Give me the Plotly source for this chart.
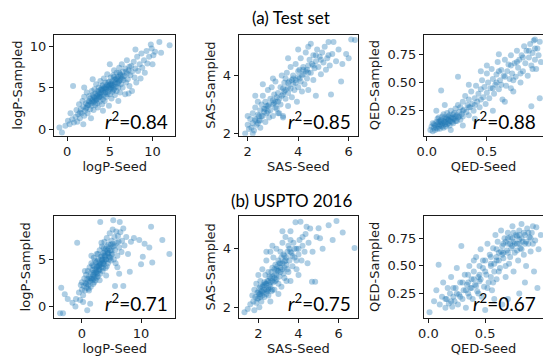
import plotly.graph_objects as go

# ---------------- data ----------------
logp_test = [(-0.9,0.2),(-0.6,-0.4),(-0.2,0.4),(0.1,1.0),(0.3,0.6),(0.4,1.9),(0.6,1.2),(0.7,5.2),(0.8,0.8),(1.0,1.5),
 (1.1,2.3),(1.2,0.9),(1.3,1.8),(1.4,3.0),(1.5,1.3),(1.6,2.4),(1.7,1.9),(1.8,3.4),(1.9,2.7),(2.0,1.6),(2.0,3.9),(2.1,2.2),
 (2.2,3.1),(2.3,2.6),(2.3,4.4),(2.4,1.9),(2.5,3.4),(2.5,2.9),(2.6,4.0),(2.7,2.4),(2.7,3.7),(2.8,3.1),(2.9,4.6),(2.9,2.8),
 (3.0,3.5),(3.0,4.1),(3.1,2.3),(3.1,3.2),(3.2,4.8),(3.2,3.8),(3.3,2.9),(3.3,4.3),(3.4,3.5),(3.4,5.4),(3.5,3.1),(3.5,4.0),
 (3.6,4.6),(3.6,2.6),(3.7,3.8),(3.7,5.0),(3.8,4.2),(3.8,3.3),(3.9,4.7),(3.9,5.8),(4.0,3.9),(4.0,4.4),(4.1,3.0),(4.1,5.2),
 (4.2,4.6),(4.2,3.6),(4.3,4.1),(4.3,6.1),(4.4,5.0),(4.4,3.4),(4.5,4.4),(4.5,5.6),(4.6,4.8),(4.6,3.9),(4.7,5.3),(4.7,6.6),
 (4.8,4.5),(4.8,5.0),(4.9,2.8),(4.9,5.7),(5.0,4.9),(5.0,4.2),(5.1,5.4),(5.1,6.2),(5.2,3.7),(5.2,5.0),(5.3,5.8),(5.3,4.5),
 (5.4,6.5),(5.4,5.2),(5.5,4.8),(5.5,7.1),(5.6,5.6),(5.6,4.1),(5.7,6.0),(5.7,5.1),(5.8,6.8),(5.8,4.6),(5.9,5.5),(6.0,6.3),
 (6.0,5.0),(6.1,7.4),(6.1,5.8),(6.2,4.4),(6.2,6.6),(6.3,5.4),(6.4,6.1),(6.4,7.8),(6.5,5.0),(6.5,6.9),(6.6,5.9),(6.7,6.4),
 (6.8,7.3),(6.8,4.2),(6.9,5.6),(7.0,6.7),(7.0,8.3),(7.1,6.0),(7.2,7.1),(7.3,5.2),(7.4,6.5),(7.5,7.6),(7.6,4.6),(7.6,6.9),
 (7.8,8.1),(7.9,6.2),(8.0,7.3),(8.1,5.6),(8.2,8.7),(8.3,7.0),(8.5,7.8),(8.6,6.1),(8.7,9.1),(8.8,7.4),(9.0,8.3),(9.1,6.8),
 (9.3,9.4),(9.4,7.9),(9.6,8.7),(9.8,10.2),(9.9,9.7),(10.0,7.8),(10.1,8.9),(10.3,9.3),(10.8,10.5),(11.0,9.2),(12.0,10.1),
 (2.8,1.3),(1.9,0.6),(6.0,3.4),(7.2,4.3),(8.0,9.6),(5.0,7.8),(3.0,6.0),(2.0,5.0),(4.2,2.2),(3.5,3.6),(4.0,4.8),(4.5,4.9),
 (5.0,5.3),(5.5,5.9),(6.0,5.6),(3.2,3.4),(3.8,3.9),(4.4,4.4),(5.2,5.5),(5.8,6.1),(6.3,6.5),(2.6,3.3),(4.7,4.2),(5.4,4.7),
 (3.3,3.7),(3.6,4.2),(3.9,4.0),(4.1,4.7),(4.3,4.9),(4.6,5.1),(4.9,5.2),(5.1,4.8),(5.3,5.3),(5.6,5.4),(5.9,6.0),(6.2,5.9),
 (6.5,6.3),(2.9,3.4),(2.4,2.9),(3.1,3.9),(3.7,4.4),(4.2,5.3),(4.8,5.6),(5.5,6.3),(6.1,6.8),(6.9,6.9),(7.3,7.5),(2.2,2.5),
 (1.5,2.0)]

sas_test = [(1.9,2.0),(2.0,2.3),(2.05,2.15),(2.1,2.5),(2.15,2.2),(2.2,2.7),(2.2,2.35),(2.25,2.1),(2.3,2.5),(2.3,2.9),
 (2.35,2.3),(2.4,2.65),(2.4,3.1),(2.45,2.45),(2.5,2.8),(2.5,2.2),(2.55,3.0),(2.6,2.6),(2.6,3.3),(2.65,2.85),(2.7,2.4),
 (2.7,3.1),(2.75,2.7),(2.8,3.5),(2.8,2.95),(2.85,2.55),(2.9,3.2),(2.9,2.8),(2.95,3.6),(3.0,3.0),(3.0,2.6),(3.05,3.35),
 (3.1,3.1),(3.1,3.8),(3.15,2.85),(3.2,3.4),(3.2,2.7),(3.25,3.2),(3.3,3.6),(3.3,3.0),(3.35,4.0),(3.4,3.35),(3.4,2.6),
 (3.45,3.75),(3.5,3.2),(3.5,3.5),(3.55,4.1),(3.6,3.4),(3.6,2.95),(3.65,3.8),(3.7,3.55),(3.7,4.3),(3.75,3.25),(3.8,3.7),
 (3.8,4.0),(3.85,3.5),(3.9,4.4),(3.9,3.85),(3.95,3.1),(4.0,3.95),(4.0,3.6),(4.05,4.2),(4.1,3.8),(4.1,4.6),(4.15,3.45),
 (4.2,4.05),(4.2,4.3),(4.25,3.7),(4.3,4.15),(4.3,4.8),(4.35,3.9),(4.4,4.35),(4.4,3.5),(4.45,4.55),(4.5,4.1),(4.5,5.1),
 (4.55,4.4),(4.6,3.85),(4.6,4.7),(4.65,4.25),(4.7,4.5),(4.7,3.3),(4.75,4.9),(4.8,4.3),(4.85,4.65),(4.9,4.05),(4.95,4.8),
 (5.0,4.45),(5.05,5.0),(5.1,4.2),(5.15,4.6),(5.2,5.16),(5.25,4.35),(5.3,3.35),(5.35,4.75),(5.4,5.16),(5.5,4.5),(5.6,4.9),
 (5.7,3.8),(5.75,4.4),(5.9,4.75),(6.0,4.6),(6.1,5.25),(6.25,5.23),(3.25,2.7),(3.4,2.55),(2.0,2.6),(2.3,3.3),(2.6,3.7),
 (3.0,3.9),(3.6,4.6),(4.0,4.9),(4.4,5.0),(2.5,2.45),(2.75,2.95),(3.05,3.05),(3.35,3.3),(3.6,3.6),(3.9,3.75),(4.15,4.0),
 (2.2,2.0),(2.45,2.6),(2.65,2.75),(2.85,3.0),(3.15,3.25),(3.45,3.45),(3.75,3.85),(4.05,3.9),(4.35,4.2),(4.6,4.35),
 (2.3,2.45),(2.55,2.6),(2.8,2.75),(3.0,3.15),(3.2,3.1),(3.4,3.55),(3.6,3.75),(3.8,3.9),(4.0,4.15),(4.2,4.2),(4.4,4.1),
 (4.7,4.7),(4.9,4.55),(5.2,4.7),(3.5,3.9),(3.1,2.9),(2.7,2.85),(2.4,2.35)]

qed_test = [(0.03,0.08),(0.04,0.11),(0.05,0.07),(0.05,0.14),(0.06,0.10),(0.07,0.12),(0.07,0.08),(0.08,0.15),(0.08,0.10),
 (0.09,0.13),(0.09,0.18),(0.10,0.11),(0.10,0.15),(0.11,0.09),(0.11,0.13),(0.12,0.17),(0.12,0.12),(0.13,0.20),(0.13,0.14),
 (0.14,0.10),(0.14,0.16),(0.15,0.13),(0.15,0.19),(0.16,0.15),(0.16,0.11),(0.17,0.18),(0.17,0.23),(0.18,0.14),(0.18,0.17),
 (0.19,0.21),(0.19,0.12),(0.20,0.16),(0.20,0.25),(0.21,0.19),(0.22,0.14),(0.22,0.22),(0.23,0.18),(0.24,0.27),(0.24,0.16),
 (0.25,0.21),(0.26,0.30),(0.26,0.19),(0.27,0.24),(0.28,0.17),(0.28,0.28),(0.29,0.22),(0.30,0.33),(0.30,0.20),(0.31,0.26),
 (0.32,0.38),(0.33,0.24),(0.34,0.30),(0.35,0.21),(0.35,0.35),(0.36,0.28),(0.37,0.42),(0.38,0.31),(0.39,0.25),(0.40,0.36),
 (0.41,0.47),(0.42,0.33),(0.43,0.40),(0.44,0.28),(0.45,0.44),(0.46,0.52),(0.47,0.37),(0.48,0.46),(0.49,0.31),(0.50,0.41),
 (0.50,0.58),(0.51,0.50),(0.52,0.36),(0.53,0.45),(0.54,0.62),(0.55,0.53),(0.56,0.40),(0.57,0.48),(0.58,0.57),(0.59,0.68),
 (0.60,0.44),(0.61,0.52),(0.62,0.61),(0.63,0.35),(0.64,0.56),(0.65,0.70),(0.66,0.47),(0.67,0.60),(0.68,0.66),(0.69,0.53),
 (0.70,0.74),(0.71,0.58),(0.72,0.42),(0.73,0.67),(0.74,0.55),(0.75,0.78),(0.76,0.63),(0.77,0.70),(0.78,0.50),(0.79,0.74),
 (0.80,0.60),(0.81,0.82),(0.82,0.67),(0.83,0.78),(0.84,0.56),(0.85,0.72),(0.86,0.84),(0.87,0.29),(0.87,0.65),(0.88,0.76),
 (0.89,0.87),(0.90,0.70),(0.90,0.88),(0.91,0.62),(0.92,0.80),(0.93,0.74),(0.94,0.36),(0.94,0.86),(0.95,0.68),
 (0.12,0.43),(0.26,0.55),(0.50,0.65),(0.08,0.25),(0.15,0.30),(0.20,0.08),(0.30,0.12),(0.40,0.18),(0.55,0.25),(0.65,0.33),
 (0.70,0.45),(0.60,0.75),(0.45,0.60),(0.35,0.48),(0.06,0.13),(0.09,0.09),(0.12,0.15),(0.13,0.11),(0.16,0.18),(0.18,0.20),
 (0.21,0.15),(0.24,0.20),(0.10,0.19),(0.14,0.22),(0.17,0.13),(0.19,0.16),(0.11,0.16),(0.15,0.15),(0.20,0.19),(0.23,0.23),
 (0.55,0.45),(0.60,0.60),(0.65,0.55),(0.70,0.65),(0.75,0.68),(0.80,0.72),(0.85,0.78),(0.88,0.62),(0.90,0.80),(0.78,0.58),
 (0.72,0.52),(0.62,0.48),(0.58,0.50),(0.45,0.35),(0.40,0.30),(0.35,0.28),(0.30,0.25),(0.27,0.20),(0.25,0.16),(0.22,0.18)]

logp_uspto = [(-3.7,-0.7),(-3.2,-0.7),(-3.5,2.0),(-2.9,1.3),(-2.4,0.8),(-1.6,0.4),(-1.1,0.0),(-1.0,0.8),(-0.8,6.8),
 (-0.5,1.5),(-0.3,0.7),(0.0,1.8),(0.0,2.6),(0.2,1.2),(0.3,2.2),(0.4,3.0),(0.5,1.7),(0.6,2.5),(0.7,3.4),(0.8,2.0),(0.9,-0.4),
 (0.9,2.9),(1.0,3.8),(1.1,2.3),(1.2,3.2),(1.3,4.2),(1.4,0.3),(1.4,2.7),(1.5,3.6),(1.6,4.6),(1.7,3.0),(1.8,3.9),(1.9,2.4),
 (2.0,4.3),(2.0,5.2),(2.1,3.4),(2.2,4.0),(2.3,2.8),(2.4,4.7),(2.5,3.7),(2.5,5.6),(2.6,4.3),(2.7,3.2),(2.8,5.0),(2.9,4.0),
 (3.0,6.0),(3.0,4.6),(3.1,3.5),(3.1,9.0),(3.2,5.3),(3.3,4.2),(3.4,6.4),(3.5,5.0),(3.5,3.8),(3.6,5.7),(3.7,4.5),(3.8,6.9),
 (3.9,5.3),(4.0,4.1),(4.0,6.1),(4.1,5.0),(4.2,7.3),(4.3,5.7),(4.4,4.6),(4.5,6.6),(4.6,5.3),(4.7,7.8),(4.8,6.0),(4.9,4.9),
 (5.0,7.0),(5.1,5.6),(5.2,8.2),(5.3,9.2),(5.3,6.4),(5.4,5.0),(5.5,7.4),(5.6,2.2),(5.6,6.0),(5.8,8.0),(5.9,6.8),(6.0,5.4),
 (6.1,7.5),(6.3,6.3),(6.4,9.0),(6.5,7.9),(6.7,5.8),(6.8,7.0),(7.0,2.2),(7.0,8.3),(7.2,6.5),(7.5,7.4),(7.8,5.6),(8.1,3.7),
 (8.3,6.9),(8.8,7.3),(9.7,7.1),(10.0,4.5),(10.3,5.3),(10.6,6.7),(11.4,6.3),(11.7,8.5),(11.9,4.7),(13.6,7.1),(14.8,5.6),
 (1.0,2.6),(1.5,2.1),(2.0,3.0),(2.3,3.6),(2.6,3.5),(2.8,4.3),(3.0,3.9),(3.2,4.5),(3.4,4.9),(3.6,4.1),(3.8,4.8),(4.0,5.4),
 (4.2,4.3),(4.4,5.6),(4.6,6.2),(4.8,5.2),(5.0,6.0),(5.2,6.7),(1.2,1.7),(1.8,2.8),(2.2,4.9),(2.7,5.6),(3.3,6.8),(0.5,3.8),
 (1.6,5.4),(6.0,4.2),(6.3,3.5),(0.2,0.5),(-0.2,2.3),(5.7,4.6),(4.1,3.3),(3.0,2.8),(1.3,3.0),(1.9,3.4),(2.4,3.9),(2.9,4.4),
 (3.4,5.4),(3.9,5.9),(4.3,6.4),(4.9,6.6),(2.1,2.6),(2.5,3.1),(3.6,4.7),(4.5,5.0),
 (1.5,3.0),(2.0,3.6),(2.5,4.2),(3.0,4.4),(3.5,4.6),(4.0,5.0),(4.5,5.7),(5.0,5.5),(2.8,3.8),(3.3,5.0),(3.8,5.5),(4.3,6.0),
 (1.8,4.4),(2.2,3.2),(1.1,1.9),(0.7,2.4),(5.5,6.5),(6.2,6.9),(3.7,6.2),(2.6,4.8)]

sas_uspto = [(1.31,1.83),(1.47,1.94),(1.6,2.1),(1.7,2.4),(1.75,2.2),(1.8,2.6),(1.85,2.35),(1.9,2.15),(1.9,2.8),(1.95,2.5),
 (2.0,2.3),(2.0,3.1),(2.05,2.65),(2.1,2.45),(2.1,2.9),(2.15,2.2),(2.2,2.7),(2.2,3.3),(2.25,2.5),(2.3,2.85),(2.3,2.35),
 (2.35,3.1),(2.4,2.6),(2.4,3.6),(2.45,2.9),(2.5,2.4),(2.5,3.2),(2.55,2.75),(2.6,3.0),(2.6,3.9),(2.65,2.55),(2.7,3.35),
 (2.7,2.9),(2.75,3.7),(2.8,3.1),(2.8,2.6),(2.85,3.45),(2.9,2.95),(2.9,4.0),(2.95,3.25),(3.0,3.6),(3.0,2.8),(3.05,3.05),
 (3.1,3.9),(3.1,3.35),(3.15,2.7),(3.2,3.5),(3.2,4.2),(3.25,3.15),(3.3,3.75),(3.3,3.0),(3.35,4.4),(3.4,3.45),(3.45,3.9),
 (3.5,3.2),(3.5,4.1),(3.55,3.6),(3.6,4.6),(3.6,2.9),(3.65,3.85),(3.7,3.4),(3.75,4.2),(3.8,3.7),(3.85,4.9),(3.9,4.0),
 (3.9,3.3),(4.0,3.8),(4.05,4.3),(4.1,4.92),(4.15,3.6),(4.2,4.1),(4.3,3.9),(4.35,4.5),(4.45,3.5),(4.5,4.2),(4.58,4.69),
 (4.67,2.87),(4.7,3.9),(4.83,2.87),(4.9,4.4),(5.07,4.36),(5.2,4.0),(5.5,4.8),(5.7,4.3),(5.89,4.95),(6.2,4.55),(6.79,4.02),
 (5.0,4.7),(4.4,4.75),(2.0,2.5),(2.1,2.7),(2.2,2.4),(2.3,2.6),(2.35,2.8),(2.45,2.55),(2.5,2.9),(2.55,3.05),(2.6,2.7),
 (2.65,3.2),(2.75,2.85),(2.8,3.3),(2.85,2.9),(2.95,3.4),(3.05,3.5),(3.15,3.7),(3.25,3.8),(3.35,3.6),(3.45,3.3),(3.55,4.0),
 (1.8,1.9),(2.05,2.0),(2.6,2.2),(3.0,2.45),(3.4,2.9),(4.0,3.1),(2.4,3.9),(2.7,4.1),(3.2,4.6),(3.6,4.3),(2.15,2.55),
 (2.25,2.75),(2.4,2.45),(2.5,2.65),(2.7,2.6),(2.9,3.1),(3.1,3.2),(3.3,3.35),(3.7,3.75),(3.9,3.6),
 (2.1,2.35),(2.2,2.55),(2.3,2.75),(2.4,2.8),(2.5,2.6),(2.6,2.85),(2.7,3.05),(2.8,3.0),(2.9,3.3),(3.0,3.25),(3.1,3.5),
 (3.2,3.3),(3.3,3.55),(3.4,3.7),(3.6,3.9),(3.8,4.0),(4.0,4.0),(4.2,4.4),(1.95,2.3),(2.05,2.45)]

qed_uspto = [(0.01,0.08),(0.05,0.18),(0.07,0.28),(0.09,0.51),(0.10,0.15),(0.12,0.22),(0.13,0.35),(0.15,0.12),(0.16,0.20),
 (0.17,0.30),(0.18,0.16),(0.19,0.25),(0.20,0.40),(0.21,0.13),(0.22,0.22),(0.23,0.18),(0.24,0.30),(0.25,0.48),(0.26,0.15),
 (0.27,0.24),(0.28,0.35),(0.29,0.68),(0.30,0.20),(0.31,0.28),(0.32,0.42),(0.33,0.12),(0.34,0.33),(0.35,0.25),(0.36,0.50),
 (0.37,0.30),(0.38,0.38),(0.39,0.20),(0.40,0.45),(0.41,0.33),(0.42,0.58),(0.43,0.27),(0.44,0.40),(0.45,0.36),(0.46,0.65),
 (0.47,0.22),(0.48,0.48),(0.49,0.31),(0.50,0.55),(0.50,0.10),(0.51,0.42),(0.52,0.70),(0.53,0.35),(0.54,0.60),(0.55,0.50),
 (0.56,0.28),(0.57,0.66),(0.58,0.45),(0.59,0.78),(0.60,0.55),(0.60,0.38),(0.61,0.72),(0.62,0.62),(0.63,0.48),(0.64,0.82),
 (0.65,0.68),(0.66,0.57),(0.67,0.75),(0.68,0.40),(0.69,0.64),(0.70,0.80),(0.70,0.70),(0.71,0.52),(0.72,0.76),(0.73,0.66),
 (0.74,0.86),(0.75,0.72),(0.75,0.45),(0.76,0.62),(0.77,0.78),(0.78,0.70),(0.79,0.55),(0.80,0.82),(0.80,0.74),(0.81,0.66),
 (0.82,0.88),(0.83,0.72),(0.84,0.60),(0.85,0.78),(0.86,0.50),(0.87,0.84),(0.88,0.70),(0.89,0.76),(0.90,0.63),(0.91,0.80),
 (0.92,0.86),(0.93,0.45),(0.94,0.73),(0.95,0.85),(0.97,0.65),(0.99,0.78),(0.96,0.30),(0.85,0.35),(0.80,0.25),(0.70,0.20),
 (0.65,0.15),(0.58,0.20),(0.33,0.28),(0.36,0.22),(0.38,0.30),(0.42,0.32),(0.44,0.25),(0.46,0.38),(0.52,0.30),(0.55,0.40),
 (0.58,0.52),(0.62,0.55),(0.64,0.63),(0.66,0.70),(0.68,0.72),(0.72,0.70),(0.74,0.75),(0.76,0.70),(0.78,0.77),(0.82,0.75),
 (0.84,0.80),(0.86,0.72),(0.88,0.80),(0.62,0.45),(0.55,0.58),(0.48,0.55),(0.40,0.55),(0.30,0.35),(0.25,0.25),(0.22,0.30),
 (0.35,0.42),(0.45,0.50),(0.60,0.65),(0.70,0.62),(0.78,0.64),(0.80,0.70),(0.74,0.68),(0.66,0.62),
 (0.75,0.80),(0.80,0.78),(0.85,0.70),(0.70,0.75),(0.65,0.60),(0.60,0.58),(0.55,0.52),(0.50,0.45),(0.45,0.42),(0.40,0.38),
 (0.35,0.35),(0.28,0.22),(0.20,0.18),(0.15,0.20),(0.90,0.75),(0.92,0.70),(0.72,0.58),(0.82,0.65),(0.68,0.50),(0.57,0.35)]

panel_data = [logp_test, sas_test, qed_test, logp_uspto, sas_uspto, qed_uspto]
x_titles = ["logP-Seed", "SAS-Seed", "QED-Seed", "logP-Seed", "SAS-Seed", "QED-Seed"]
y_titles = ["logP-Sampled", "SAS-Sampled", "QED-Sampled", "logP-Sampled", "SAS-Sampled", "QED-Sampled"]
r2_values = ["0.84", "0.85", "0.88", "0.71", "0.75", "0.67"]
row_titles = ["(a) Test set", "(b) USPTO 2016"]

x_ticks = [[0, 5, 10], [2, 4, 6], [0, 0.5], [0, 10], [2, 4, 6], [0, 0.5]]
x_ticktext = [["0", "5", "10"], ["2", "4", "6"], ["0.0", "0.5"], ["0", "10"], ["2", "4", "6"], ["0.0", "0.5"]]
y_ticks = [[0, 5, 10], [2, 4], [0.25, 0.5, 0.75], [0, 5], [2, 4], [0.25, 0.5, 0.75]]
y_ticktext = [["0", "5", "10"], ["2", "4"], ["0.25", "0.50", "0.75"], ["0", "5"], ["2", "4"], ["0.25", "0.50", "0.75"]]

x_ranges = [[-1.53, 12.69], [1.65, 6.36], [-0.022, 0.967], [-4.72, 15.83], [1.03, 6.95], [-0.038, 1.009]]
y_ranges = [[-0.8, 11.39], [1.92, 5.42], [0.029, 0.924], [-1.19, 9.65], [1.64, 5.12], [0.030, 0.953]]

# ---------------- layout geometry ----------------
W, H = 543, 356
col_px = [(46.7, 170.0), (234.3, 355.0), (422.3, 543.0)]
row_px = [(35.0, 137.7), (219.0, 322.3)]

fig = go.Figure()
tick_font = dict(family="DejaVu Sans", size=13, color="#1a1a1a")
for i, pts in enumerate(panel_data):
    r, c = divmod(i, 3)
    n = "" if i == 0 else str(i + 1)
    xs = [p[0] for p in pts]
    ys = [p[1] for p in pts]
    fig.add_trace(go.Scatter(x=xs, y=ys, mode="markers", xaxis="x" + n, yaxis="y" + n,
                             marker=dict(color="#1f77b4", size=6, opacity=0.36, line=dict(width=0)),
                             showlegend=False, hoverinfo="skip"))
    xd = [col_px[c][0] / W, col_px[c][1] / W]
    yd = [1 - row_px[r][1] / H, 1 - row_px[r][0] / H]
    last_col = (c == 2)
    fig.layout["xaxis" + n] = dict(domain=xd, anchor="y" + n, range=x_ranges[i],
                                   tickvals=x_ticks[i], ticktext=x_ticktext[i],
                                   showline=True, mirror=True, linecolor="#1a1a1a", linewidth=1.2,
                                   ticks="outside", ticklen=4, tickwidth=1, tickcolor="#1a1a1a",
                                   showgrid=False, zeroline=False, tickfont=tick_font,
                                   title=dict(text=x_titles[i], font=tick_font, standoff=3))
    fig.layout["yaxis" + n] = dict(domain=yd, anchor="x" + n, range=y_ranges[i],
                                   tickvals=y_ticks[i], ticktext=y_ticktext[i],
                                   showline=True, mirror=(not last_col), linecolor="#1a1a1a", linewidth=1.2,
                                   ticks="outside", ticklen=4, tickwidth=1, tickcolor="#1a1a1a",
                                   showgrid=False, zeroline=False, tickfont=tick_font,
                                   title=dict(text=y_titles[i], font=tick_font, standoff=4))
    fig.add_annotation(text="<i>r</i><sup>2</sup>=" + r2_values[i],
                       xref="x" + n + " domain", yref="y" + n + " domain", x=1, y=0,
                       xanchor="right", yanchor="bottom", xshift=-5, yshift=1, showarrow=False,
                       font=dict(family="Lato", size=19, color="black"))

fig.add_annotation(text=row_titles[0], xref="paper", yref="paper", x=287.5 / W, y=1 - 17.3 / H,
                   xanchor="center", yanchor="middle", showarrow=False,
                   font=dict(family="Lato", size=17, color="black"))
fig.add_annotation(text=row_titles[1], xref="paper", yref="paper", x=287.5 / W, y=1 - 203 / H,
                   xanchor="center", yanchor="middle", showarrow=False,
                   font=dict(family="Lato", size=17, color="black"))

fig.update_layout(width=W, height=H, margin=dict(l=0, r=0, t=0, b=0),
                  paper_bgcolor="white", plot_bgcolor="white")
fig.write_html("out.html")
